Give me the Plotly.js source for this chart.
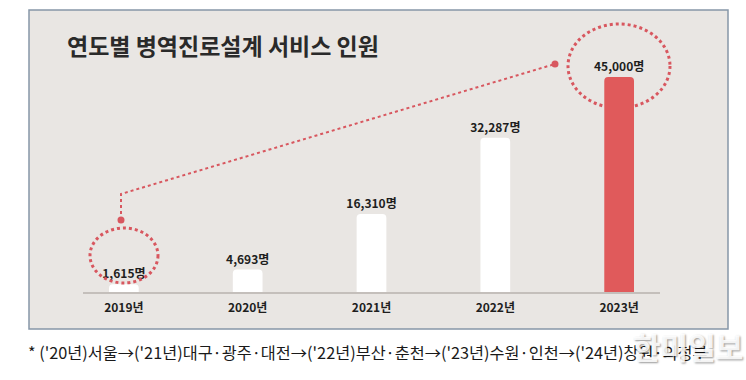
<!DOCTYPE html>
<html>
<head>
<meta charset="utf-8">
<script src="https://cdn.plot.ly/plotly-3.0.1.min.js"></script>
<style>html,body{margin:0;padding:0;background:#fff;}#chart{width:746px;height:380px;}</style>
</head>
<body>
<div id="chart"></div>
<script>
const categories = ['2019년', '2020년', '2021년', '2022년', '2023년'];
const values = [1615, 4693, 16310, 32287, 45000];
const valueLabels = ['1,615명', '4,693명', '16,310명', '32,287명', '45,000명'];
const barColors = ['#ffffff', '#ffffff', '#ffffff', '#ffffff', '#e05a5b'];
const titleText = '연도별 병역진로설계 서비스 인원';
const footnote = "* ('20년)서울→('21년)대구·광주·대전→('22년)부산·춘천→('23년)수원·인천→('24년)창원·의정부";
const watermark = '한미일보';

const W = 746, H = 380;
const M = {l: 83, r: 86, t: 40, b: 88};
const PW = W - M.l - M.r, PH = H - M.t - M.b;
const px = x => (x - M.l) / PW;
const py = y => (H - M.b - y) / PH;
const FONT = '"Noto Sans CJK KR", "Noto Sans", sans-serif';
const RED = '#d8575f';

const trace = {
  type: 'bar',
  x: categories,
  y: values,
  text: valueLabels,
  texttemplate: '%{text}',
  textposition: 'outside',
  constraintext: 'none',
  cliponaxis: false,
  textfont: {family: FONT, size: 12, color: '#1e1e1e', weight: 700},
  marker: {color: barColors, cornerradius: 4, line: {width: 0}},
  hoverinfo: 'skip'
};

const shapes = [
  {type: 'rect', xref: 'paper', yref: 'paper', layer: 'below',
   x0: px(29), x1: px(728), y0: py(10), y1: py(329),
   fillcolor: '#e9e6e3', line: {color: '#8697a8', width: 1.5}},
  {type: 'circle', xref: 'paper', yref: 'paper', layer: 'below',
   x0: px(568), x1: px(670), y0: py(24), y1: py(108),
   line: {color: RED, width: 3, dash: 'dot'}},
  {type: 'circle', xref: 'paper', yref: 'paper', layer: 'above',
   x0: px(90), x1: px(158), y0: py(228), y1: py(283),
   line: {color: RED, width: 3, dash: 'dot'}},
  {type: 'path', xref: 'paper', yref: 'paper', layer: 'above',
   path: `M ${px(121)} ${py(220)} L ${px(121)} ${py(194)} L ${px(555)} ${py(64)}`,
   line: {color: RED, width: 2, dash: 'dot'}},
  {type: 'circle', xref: 'paper', yref: 'paper', layer: 'above',
   x0: px(117.5), x1: px(124.5), y0: py(216.5), y1: py(223.5),
   fillcolor: RED, line: {width: 0}},
  {type: 'circle', xref: 'paper', yref: 'paper', layer: 'above',
   x0: px(551.5), x1: px(558.5), y0: py(60.5), y1: py(67.5),
   fillcolor: RED, line: {width: 0}}
];

const layout = {
  width: W, height: H,
  margin: M,
  paper_bgcolor: '#ffffff',
  plot_bgcolor: 'rgba(0,0,0,0)',
  showlegend: false,
  bargap: 0.76,
  title: {text: titleText, x: 67 / W, xanchor: 'left', xref: 'container',
          y: 1 - 47 / H, yanchor: 'middle', yref: 'container',
          font: {family: FONT, size: 23, color: '#2a2a2a', weight: 700}},
  xaxis: {type: 'category', range: [-0.33, 4.33], showgrid: false, zeroline: false,
          showline: true, linecolor: '#c4bfbb', linewidth: 2, ticks: '',
          ticklabelstandoff: 4,
          tickfont: {family: FONT, size: 12, color: '#1e1e1e', weight: 700}},
  yaxis: {visible: false, range: [0, 45000 * PH / 215], showgrid: false, zeroline: false},
  shapes: shapes,
  annotations: [
    {text: footnote, xref: 'paper', yref: 'paper', x: px(26), y: py(352),
     xanchor: 'left', yanchor: 'middle', showarrow: false,
     font: {family: FONT, size: 16.3, color: '#1a1a1a'}},
    {text: watermark, xref: 'paper', yref: 'paper', x: px(688), y: py(346),
     xanchor: 'center', yanchor: 'middle', showarrow: false,
     font: {family: FONT, size: 30, color: 'rgba(255,255,255,0.9)', weight: 700,
            shadow: '1px 1px 2px rgba(0,0,0,0.45)'}}
  ]
};

Plotly.newPlot('chart', [trace], layout, {staticPlot: true, displayModeBar: false});
</script>
</body>
</html>
